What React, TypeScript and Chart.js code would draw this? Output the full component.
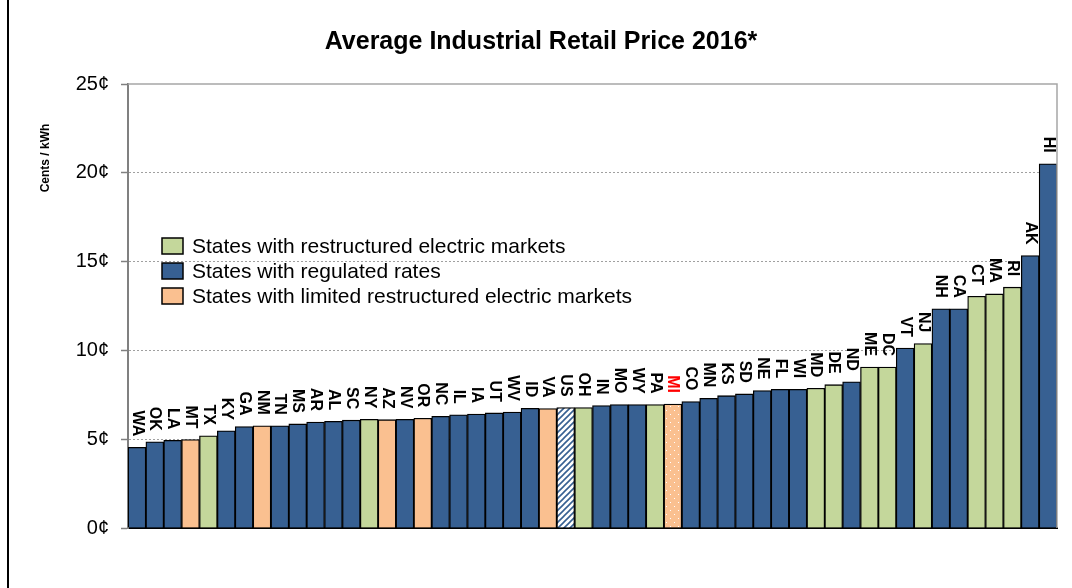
import React, { useEffect, useRef } from "react";
import { Chart, registerables } from "chart.js";

Chart.register(...registerables);

const chartTitle = "Average Industrial Retail Price 2016*";
const yAxisTitle = "Cents / kWh";

const states = [
  "WA", "OK", "LA", "MT", "TX", "KY", "GA", "NM", "TN", "MS", "AR", "AL", "SC",
  "NY", "AZ", "NV", "OR", "NC", "IL", "IA", "UT", "WV", "ID", "VA", "US", "OH",
  "IN", "MO", "WY", "PA", "MI", "CO", "MN", "KS", "SD", "NE", "FL", "WI", "MD",
  "DE", "ND", "ME", "DC", "VT", "NJ", "NH", "CA", "CT", "MA", "RI", "AK", "HI",
];

const prices = [
  4.54, 4.85, 4.94, 4.98, 5.19, 5.47, 5.71, 5.75, 5.75, 5.86, 5.97, 6.01, 6.07,
  6.12, 6.10, 6.12, 6.18, 6.29, 6.37, 6.42, 6.48, 6.53, 6.74, 6.72, 6.78, 6.78,
  6.89, 6.95, 6.95, 6.95, 6.98, 7.12, 7.30, 7.45, 7.55, 7.74, 7.81, 7.81, 7.87,
  8.07, 8.23, 9.06, 9.06, 10.13, 10.39, 12.34, 12.34, 13.05, 13.18, 13.56, 15.34, 20.51,
];

// R = restructured, G = regulated, L = limited restructured, A = US average
const marketTypes = [
  "G", "G", "G", "L", "R", "G", "G", "L", "G", "G", "G", "G", "G",
  "R", "L", "G", "L", "G", "G", "G", "G", "G", "G", "L", "A", "R",
  "G", "G", "G", "R", "L", "G", "G", "G", "G", "G", "G", "G", "R",
  "R", "G", "R", "R", "G", "R", "G", "G", "R", "R", "R", "G", "G",
];

const highlightState = "MI";
const yTickValues = [0, 5, 10, 15, 20, 25];

const legendLabels = [
  "States with restructured electric markets",
  "States with regulated rates",
  "States with limited restructured electric markets",
];
const legendTypes = ["R", "G", "L"];

const COLORS: Record<string, string> = {
  R: "#C4D79B",
  G: "#376092",
  L: "#FAC090",
};

const FONT = "'Liberation Sans', Arial, sans-serif";

function makeStripe(ctx: CanvasRenderingContext2D): CanvasPattern | string {
  const c = document.createElement("canvas");
  c.width = 6;
  c.height = 6;
  const x = c.getContext("2d");
  if (!x) return COLORS.G;
  x.fillStyle = "#ffffff";
  x.fillRect(0, 0, 6, 6);
  x.strokeStyle = COLORS.G;
  x.lineWidth = 1.6;
  x.beginPath();
  x.moveTo(-1, 7);
  x.lineTo(7, -1);
  x.moveTo(-4, 4);
  x.lineTo(4, -4);
  x.moveTo(2, 10);
  x.lineTo(10, 2);
  x.stroke();
  return ctx.createPattern(c, "repeat") || COLORS.G;
}

function makeDots(ctx: CanvasRenderingContext2D): CanvasPattern | string {
  const c = document.createElement("canvas");
  c.width = 8;
  c.height = 8;
  const x = c.getContext("2d");
  if (!x) return COLORS.L;
  x.fillStyle = COLORS.L;
  x.fillRect(0, 0, 8, 8);
  x.fillStyle = "#ffffff";
  x.fillRect(2, 2, 1, 1);
  x.fillRect(6, 6, 1, 1);
  return ctx.createPattern(c, "repeat") || COLORS.L;
}

const decorPlugin = {
  id: "decor",
  afterDatasetsDraw(chart: any) {
    const { ctx, chartArea } = chart;
    const meta = chart.getDatasetMeta(0);
    ctx.save();
    // plot frame (top & right)
    ctx.strokeStyle = "#A6A6A6";
    ctx.lineWidth = 1.5;
    ctx.beginPath();
    ctx.moveTo(chartArea.left, chartArea.top);
    ctx.lineTo(chartArea.right, chartArea.top);
    ctx.lineTo(chartArea.right, chartArea.bottom);
    ctx.stroke();

    // bar labels
    ctx.font = `bold 16px ${FONT}`;
    ctx.textBaseline = "middle";
    ctx.textAlign = "right";
    meta.data.forEach((bar: any, i: number) => {
      ctx.save();
      ctx.translate(bar.x, bar.y - 11);
      ctx.rotate(Math.PI / 2);
      ctx.fillStyle = states[i] === highlightState ? "#FF0000" : "#000000";
      ctx.fillText(states[i], 0, 0);
      ctx.restore();
    });
    ctx.restore();
  },
  afterDraw(chart: any) {
    const { ctx } = chart;
    ctx.save();
    // outer left frame line
    ctx.fillStyle = "#000";
    ctx.fillRect(7, 0, 2, 588);

    // title
    ctx.fillStyle = "#000";
    ctx.font = `bold 25px ${FONT}`;
    ctx.textAlign = "center";
    ctx.textBaseline = "middle";
    ctx.fillText(chartTitle, 541, 42);

    // y axis title
    ctx.save();
    ctx.translate(46, 158);
    ctx.rotate(-Math.PI / 2);
    ctx.font = `bold 12px ${FONT}`;
    ctx.fillText(yAxisTitle, 0, 0);
    ctx.restore();

    // legend
    ctx.font = `21px ${FONT}`;
    ctx.textAlign = "left";
    legendLabels.forEach((lab, i) => {
      const cy = 246 + i * 25;
      ctx.fillStyle = COLORS[legendTypes[i]];
      ctx.fillRect(162, cy - 8, 21, 16);
      ctx.strokeStyle = "#000";
      ctx.lineWidth = 1.5;
      ctx.strokeRect(162, cy - 8, 21, 16);
      ctx.fillStyle = "#000";
      ctx.fillText(lab, 192, cy + 1);
    });
    ctx.restore();
  },
};

export default function App() {
  const ref = useRef<HTMLCanvasElement | null>(null);

  useEffect(() => {
    const canvas = ref.current;
    if (!canvas) return;
    const ctx = canvas.getContext("2d");
    if (!ctx) return;
    const stripe = makeStripe(ctx);
    const dots = makeDots(ctx);
    const bg = states.map((s, i) => {
      if (marketTypes[i] === "A") return stripe;
      if (s === highlightState) return dots;
      return COLORS[marketTypes[i]];
    });

    const chart = new Chart(canvas, {
      type: "bar",
      data: {
        labels: states,
        datasets: [
          {
            data: prices,
            backgroundColor: bg as any,
            borderColor: "#000000",
            borderWidth: 1.3,
            barPercentage: 1,
            categoryPercentage: 1,
          },
        ],
      },
      options: {
        animation: false,
        responsive: false,
        maintainAspectRatio: false,
        layout: { padding: { left: 0, top: 84, right: 15, bottom: 0 } },
        plugins: {
          legend: { display: false },
          title: { display: false },
          tooltip: { enabled: false },
        },
        scales: {
          x: {
            grid: { display: false },
            ticks: { display: false },
            border: { color: "#000000", width: 2 },
            afterFit: (s: any) => {
              s.height = 60;
            },
          },
          y: {
            min: 0,
            max: 25,
            afterBuildTicks: (s: any) => {
              s.ticks = yTickValues.map((v) => ({ value: v }));
            },
            ticks: {
              callback: (v: any) => `${v}¢`,
              color: "#000000",
              font: { family: FONT, size: 20 },
              padding: 12,
            },
            grid: {
              color: (c: any) =>
                c.tick && (c.tick.value === 0 || c.tick.value === 25)
                  ? "rgba(0,0,0,0)"
                  : "#A0A0A0",
              lineWidth: 1,
              tickColor: "#808080",
              tickLength: 7,
              tickWidth: 1.5,
            },
            border: { color: "#808080", width: 2, dash: [2, 2] },
            afterFit: (s: any) => {
              s.width = 128;
            },
          },
        },
      },
      plugins: [decorPlugin],
    });
    return () => chart.destroy();
  }, []);

  return (
    <div style={{ position: "fixed", left: 0, top: 0, width: 1072, height: 588, background: "#fff" }}>
      <canvas ref={ref} width={1072} height={588} style={{ display: "block" }} />
    </div>
  );
}
